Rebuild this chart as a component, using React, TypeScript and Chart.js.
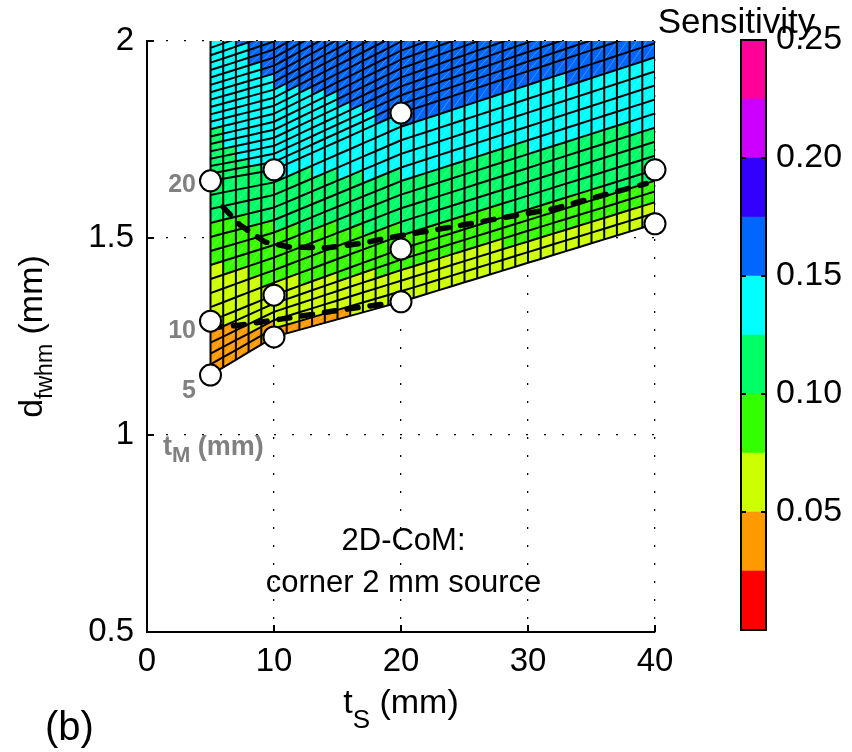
import React, { useEffect, useRef } from "react";
import { Chart, registerables } from "chart.js";

Chart.register(...registerables);

const FONT = '"Liberation Sans", Arial, Helvetica, sans-serif';

// ---- axes ----
const X_TICKS = [0, 10, 20, 30, 40];
const Y_TICKS = [0.5, 1, 1.5, 2];

// ---- simulated nodes: t_S (columns) x t_M (rows) ----
const TS_NODES = [5, 10, 20, 40];
const TM_NODES = [5, 10, 20, 40];

// d_fwhm (mm) for each t_M row, at TS_NODES
const DFWHM_TM5 = [1.152, 1.249, 1.338, 1.536];
const DFWHM_TM10 = [1.289, 1.355, 1.472, 1.673];
const DFWHM_TM20 = [1.645, 1.673, 1.817, 2.03];
const DFWHM_TM40 = [2.02, 2.08, 2.27, 2.55];

// sensitivity for each t_M row, at TS_NODES
const SENS_TM5 = [0.035, 0.042, 0.05, 0.058];
const SENS_TM10 = [0.05, 0.068, 0.09, 0.108];
const SENS_TM20 = [0.115, 0.127, 0.154, 0.161];
const SENS_TM40 = [0.14, 0.17, 0.185, 0.2];

const MESH_STEP_MM = 1;

// ---- colour scale ----
const SENS_LEVEL_STEP = 0.025;
const SENS_MAX = 0.25;
const SENS_TICKS = [0.05, 0.1, 0.15, 0.2, 0.25];
const CMAP = [
  "#ff0000",
  "#ff9900",
  "#ccff00",
  "#33ff00",
  "#00ff66",
  "#00ffff",
  "#0066ff",
  "#3300ff",
  "#cc00ff",
  "#ff0099",
];

// ---- dashed contours ----
const UPPER_DASH_TS = [5.98, 7.32, 9.29, 11.26, 14.17, 17.0, 18.9, 21.3, 25.4, 28.8, 32.0, 35.4, 39.3];
const UPPER_DASH_D = [1.579, 1.533, 1.49, 1.477, 1.475, 1.487, 1.5, 1.513, 1.536, 1.556, 1.574, 1.604, 1.638];
const LOWER_DASH_TS = [5.0, 7.1, 11.8, 15.2, 19.0];
const LOWER_DASH_D = [1.272, 1.278, 1.3, 1.317, 1.334];

// ---- annotation texts ----
const TM_LABELS = ["5", "10", "20"];
const TM_LABEL_TS = [3.86, 3.86, 3.86];
const TM_LABEL_D = [1.094, 1.246, 1.617];
const TM_TITLE_POS = [1.26, 0.949];
const NOTE_LINES = ["2D-CoM:", "corner 2 mm source"];
const NOTE_TS = 20.2;
const NOTE_D = [0.708, 0.602];

function lerpNodes(nodes: number[], vals: number[], x: number): number {
  let k = 0;
  while (k < nodes.length - 2 && x > nodes[k + 1]) k++;
  const t = (x - nodes[k]) / (nodes[k + 1] - nodes[k]);
  return vals[k] + t * (vals[k + 1] - vals[k]);
}

function surfaceAt(rows: number[][], ts: number, tm: number): number {
  const col = rows.map((r) => lerpNodes(TS_NODES, r, ts));
  return lerpNodes(TM_NODES, col, tm);
}

function range(a: number, b: number, step: number) {
  const out: number[] = [];
  for (let v = a; v <= b + 1e-9; v += step) out.push(v);
  return out;
}

type Part = { t: string; size: number; w?: string; dy?: number };

function drawRich(ctx: CanvasRenderingContext2D, parts: Part[], x: number, y: number, align: string) {
  const widths = parts.map((p) => {
    ctx.font = `${p.w || "normal"} ${p.size}px ${FONT}`;
    return ctx.measureText(p.t).width;
  });
  const total = widths.reduce((s, w) => s + w, 0);
  let cx = align === "center" ? x - total / 2 : align === "right" ? x - total : x;
  ctx.textAlign = "left";
  ctx.textBaseline = "alphabetic";
  parts.forEach((p, k) => {
    ctx.font = `${p.w || "normal"} ${p.size}px ${FONT}`;
    ctx.fillText(p.t, cx, y + (p.dy || 0));
    cx += widths[k];
  });
}

const surfacePlugin = {
  id: "surfaceMesh",
  beforeDatasetsDraw(chart: any) {
    const { ctx, chartArea: a, scales } = chart;
    const xs = scales.x;
    const ys = scales.y;
    const D_ROWS = [DFWHM_TM5, DFWHM_TM10, DFWHM_TM20, DFWHM_TM40];
    const S_ROWS = [SENS_TM5, SENS_TM10, SENS_TM20, SENS_TM40];
    const tsVals = range(TS_NODES[0], TS_NODES[TS_NODES.length - 1], MESH_STEP_MM);
    const tmVals = range(TM_NODES[0], TM_NODES[TM_NODES.length - 1], MESH_STEP_MM);
    const P = tsVals.map((ts) =>
      tmVals.map((tm) => ({
        x: xs.getPixelForValue(ts),
        y: ys.getPixelForValue(surfaceAt(D_ROWS, ts, tm)),
        s: surfaceAt(S_ROWS, ts, tm),
      }))
    );
    ctx.save();
    ctx.beginPath();
    ctx.rect(a.left, a.top, a.right - a.left, a.bottom - a.top);
    ctx.clip();
    const ni = tsVals.length;
    const nj = tmVals.length;
    for (let i = 0; i < ni - 1; i++) {
      for (let j = 0; j < nj - 1; j++) {
        const p00 = P[i][j], p10 = P[i + 1][j], p11 = P[i + 1][j + 1], p01 = P[i][j + 1];
        const s = (p00.s + p10.s + p11.s + p01.s) / 4;
        const lvl = Math.max(0, Math.min(CMAP.length - 1, Math.floor(s / SENS_LEVEL_STEP + 1e-9)));
        ctx.fillStyle = CMAP[lvl];
        ctx.strokeStyle = CMAP[lvl];
        ctx.lineWidth = 1;
        ctx.beginPath();
        ctx.moveTo(p00.x, p00.y);
        ctx.lineTo(p10.x, p10.y);
        ctx.lineTo(p11.x, p11.y);
        ctx.lineTo(p01.x, p01.y);
        ctx.closePath();
        ctx.fill();
        ctx.stroke();
      }
    }
    // faint triangle seams
    ctx.strokeStyle = "rgba(255,255,255,0.35)";
    ctx.lineWidth = 0.8;
    ctx.beginPath();
    for (let i = 0; i < ni - 1; i++) {
      for (let j = 0; j < nj - 1; j++) {
        ctx.moveTo(P[i][j].x, P[i][j].y);
        ctx.lineTo(P[i + 1][j + 1].x, P[i + 1][j + 1].y);
      }
    }
    ctx.stroke();
    // mesh
    ctx.strokeStyle = "#000";
    ctx.lineWidth = 2;
    ctx.lineJoin = "round";
    for (let i = 0; i < ni; i++) {
      ctx.beginPath();
      for (let j = 0; j < nj; j++) {
        if (j === 0) ctx.moveTo(P[i][j].x, P[i][j].y);
        else ctx.lineTo(P[i][j].x, P[i][j].y);
      }
      ctx.stroke();
    }
    for (let j = 0; j < nj; j++) {
      ctx.beginPath();
      for (let i = 0; i < ni; i++) {
        if (i === 0) ctx.moveTo(P[i][j].x, P[i][j].y);
        else ctx.lineTo(P[i][j].x, P[i][j].y);
      }
      ctx.stroke();
    }
    ctx.restore();
  },
  afterDraw(chart: any) {
    const { ctx, chartArea: a, scales } = chart;
    const xs = scales.x;
    const ys = scales.y;
    ctx.save();
    // inward ticks
    ctx.strokeStyle = "#000";
    ctx.lineWidth = 2;
    ctx.beginPath();
    X_TICKS.forEach((v) => {
      const x = xs.getPixelForValue(v);
      ctx.moveTo(x, a.bottom);
      ctx.lineTo(x, a.bottom - 7);
    });
    Y_TICKS.forEach((v) => {
      const y = ys.getPixelForValue(v);
      ctx.moveTo(a.left, y);
      ctx.lineTo(a.left + 7, y);
    });
    ctx.stroke();

    // gray t_M annotations
    ctx.fillStyle = "#808080";
    TM_LABELS.forEach((t, k) => {
      drawRich(ctx, [{ t, size: 25, w: "bold" }], xs.getPixelForValue(TM_LABEL_TS[k]), ys.getPixelForValue(TM_LABEL_D[k]), "right");
    });
    drawRich(
      ctx,
      [
        { t: "t", size: 27, w: "bold" },
        { t: "M", size: 22, w: "bold", dy: 7 },
        { t: " (mm)", size: 27, w: "bold" },
      ],
      xs.getPixelForValue(TM_TITLE_POS[0]),
      ys.getPixelForValue(TM_TITLE_POS[1]),
      "left"
    );

    // note text
    ctx.fillStyle = "#000";
    NOTE_LINES.forEach((t, k) => {
      drawRich(ctx, [{ t, size: 31 }], xs.getPixelForValue(NOTE_TS), ys.getPixelForValue(NOTE_D[k]), "center");
    });

    // x title
    const cx = (a.left + a.right) / 2;
    drawRich(
      ctx,
      [
        { t: "t", size: 34 },
        { t: "S", size: 26, dy: 15 },
        { t: " (mm)", size: 34 },
      ],
      cx,
      713,
      "center"
    );

    // y title
    const cy = (a.top + a.bottom) / 2;
    ctx.translate(42, cy);
    ctx.rotate(-Math.PI / 2);
    drawRich(
      ctx,
      [
        { t: "d", size: 34 },
        { t: "fwhm", size: 23, dy: 10 },
        { t: " (mm)", size: 34 },
      ],
      0,
      0,
      "center"
    );
    ctx.setTransform(1, 0, 0, 1, 0, 0);

    // panel label
    drawRich(ctx, [{ t: "(b)", size: 40 }], 45, 740, "left");
    ctx.restore();
  },
};

const colorbarPlugin = {
  id: "colorbarFrame",
  afterDraw(chart: any) {
    const { ctx, chartArea: a, scales } = chart;
    const ys = scales.y;
    ctx.save();
    ctx.strokeStyle = "#000";
    ctx.lineWidth = 2;
    ctx.strokeRect(a.left, a.top, a.right - a.left, a.bottom - a.top);
    ctx.beginPath();
    SENS_TICKS.forEach((v) => {
      if (v >= SENS_MAX - 1e-9) return;
      const y = ys.getPixelForValue(v);
      ctx.moveTo(a.left, y);
      ctx.lineTo(a.left + 5, y);
      ctx.moveTo(a.right, y);
      ctx.lineTo(a.right - 5, y);
    });
    ctx.stroke();
    ctx.fillStyle = "#000";
    ctx.font = `35px ${FONT}`;
    ctx.textAlign = "center";
    ctx.textBaseline = "alphabetic";
    ctx.fillText("Sensitivity", (a.left + a.right) / 2 - 17, 33);
    ctx.restore();
  },
};

export default function App() {
  const mainRef = useRef<HTMLCanvasElement>(null);
  const cbRef = useRef<HTMLCanvasElement>(null);

  useEffect(() => {
    const rowPoints = (d: number[]) => TS_NODES.map((t, i) => ({ x: t, y: d[i] }));
    const dashed = (tsArr: number[], dArr: number[]) => ({
      data: tsArr.map((t, i) => ({ x: t, y: dArr[i] })),
      showLine: true,
      borderColor: "#000",
      borderWidth: 5.5,
      borderDash: [11, 12],
      borderCapStyle: "round",
      pointRadius: 0,
      fill: false,
      order: 1,
    });
    const circles = (d: number[]) => ({
      data: rowPoints(d),
      showLine: false,
      pointRadius: 10.5,
      pointHoverRadius: 10.5,
      pointBackgroundColor: "#fff",
      pointBorderColor: "#000",
      pointBorderWidth: 2,
      clip: { left: 20, right: 20, top: 0, bottom: 20 },
      order: 0,
    });

    const main = new Chart(mainRef.current as HTMLCanvasElement, {
      type: "scatter",
      data: {
        datasets: [
          dashed(UPPER_DASH_TS, UPPER_DASH_D),
          dashed(LOWER_DASH_TS, LOWER_DASH_D),
          circles(DFWHM_TM5),
          circles(DFWHM_TM10),
          circles(DFWHM_TM20),
        ] as any,
      },
      options: {
        responsive: false,
        animation: false,
        devicePixelRatio: 1,
        layout: { padding: { left: 0, top: 41, right: 197, bottom: 0 } },
        plugins: { legend: { display: false }, tooltip: { enabled: false } },
        events: [],
        scales: {
          x: {
            type: "linear",
            min: 0,
            max: 40,
            afterBuildTicks: (s: any) => {
              s.ticks = X_TICKS.map((v) => ({ value: v }));
            },
            ticks: {
              color: "#000",
              font: { family: FONT, size: 33 },
              padding: 10,
              maxRotation: 0,
              autoSkip: false,
              callback: (v: any) => String(Number(v)),
            },
            grid: { color: "#000", lineWidth: 1.3, drawTicks: false },
            border: { display: true, color: "#000", width: 2, dash: [2, 16] },
            afterFit: (s: any) => {
              s.height = 120;
              s.paddingLeft = 0;
              s.paddingRight = 0;
            },
          },
          y: {
            type: "linear",
            min: 0.5,
            max: 2,
            afterBuildTicks: (s: any) => {
              s.ticks = Y_TICKS.map((v) => ({ value: v }));
            },
            ticks: {
              color: "#000",
              font: { family: FONT, size: 33 },
              padding: 13,
              autoSkip: false,
              callback: (v: any) => String(Number(v)),
            },
            grid: { color: "#000", lineWidth: 1.3, drawTicks: false },
            border: { display: true, color: "#000", width: 2, dash: [2, 16] },
            afterFit: (s: any) => {
              s.width = 147;
              s.paddingTop = 0;
              s.paddingBottom = 0;
            },
          },
        },
      } as any,
      plugins: [surfacePlugin],
    });

    const cb = new Chart(cbRef.current as HTMLCanvasElement, {
      type: "bar",
      data: {
        labels: [""],
        datasets: CMAP.map((c, i) => ({
          label: `L${i}`,
          data: [SENS_LEVEL_STEP],
          backgroundColor: c,
          borderWidth: 0,
          barPercentage: 1,
          categoryPercentage: 1,
        })),
      },
      options: {
        responsive: false,
        animation: false,
        devicePixelRatio: 1,
        events: [],
        layout: { padding: { left: 101, top: 40, right: 0, bottom: 122 } },
        plugins: { legend: { display: false }, tooltip: { enabled: false } },
        scales: {
          x: { display: false, stacked: true },
          y: {
            stacked: true,
            position: "right",
            min: 0,
            max: SENS_MAX,
            afterBuildTicks: (s: any) => {
              s.ticks = SENS_TICKS.map((v) => ({ value: v }));
            },
            ticks: {
              color: "#000",
              font: { family: FONT, size: 34 },
              padding: 10,
              autoSkip: false,
              callback: (v: any) => Number(v).toFixed(2),
            },
            grid: { display: false, drawTicks: false },
            border: { display: false },
            afterFit: (s: any) => {
              s.width = 86;
              s.paddingTop = 0;
              s.paddingBottom = 0;
            },
          },
        },
      } as any,
      plugins: [colorbarPlugin],
    });

    return () => {
      main.destroy();
      cb.destroy();
    };
  }, []);

  return (
    <div style={{ position: "absolute", left: 0, top: 0, width: 852, height: 752, background: "#fff" }}>
      <canvas ref={mainRef} width={852} height={752} style={{ position: "absolute", left: 0, top: 0 }} />
      <canvas ref={cbRef} width={212} height={752} style={{ position: "absolute", left: 640, top: 0 }} />
    </div>
  );
}
